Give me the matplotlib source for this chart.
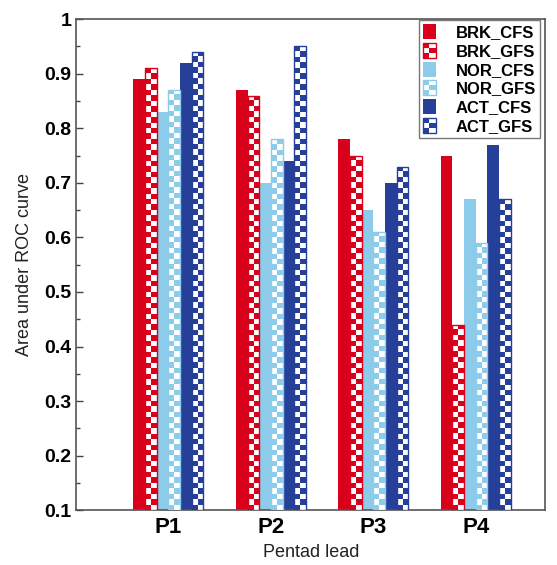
import numpy as np
import matplotlib
matplotlib.use("Agg")
import matplotlib.pyplot as plt
from matplotlib.patches import Rectangle
from matplotlib.legend_handler import HandlerBase
from matplotlib.ticker import MultipleLocator, FormatStrFormatter

plt.rcParams['font.family'] = ['Liberation Sans', 'DejaVu Sans']

# data
leads = ["P1", "P2", "P3", "P4"]
series = ["BRK_CFS", "BRK_GFS", "NOR_CFS", "NOR_GFS", "ACT_CFS", "ACT_GFS"]
brk_cfs = [0.89, 0.87, 0.78, 0.75]
brk_gfs = [0.91, 0.86, 0.75, 0.44]
nor_cfs = [0.83, 0.70, 0.65, 0.67]
nor_gfs = [0.87, 0.78, 0.61, 0.59]
act_cfs = [0.92, 0.74, 0.70, 0.77]
act_gfs = [0.94, 0.95, 0.73, 0.67]

RED = "#d9001b"
LIGHT = "#8ccbea"
DARK = "#26409a"
colors = [RED, RED, LIGHT, LIGHT, DARK, DARK]
checkered = [False, True, False, True, False, True]
values = [brk_cfs, brk_gfs, nor_cfs, nor_gfs, act_cfs, act_gfs]

YMIN, YMAX = 0.1, 1.0
x = np.arange(1, len(leads) + 1)
w = 0.114

fig = plt.figure(figsize=(5.57, 5.65), dpi=100)
ax = fig.add_axes([0.137, 0.097, 0.842, 0.869])


def checker_img(color, rows, cols):
    c = np.array(matplotlib.colors.to_rgb(color))
    img = np.ones((rows, cols, 3))
    for r in range(rows):
        for k in range(cols):
            if (r + k) % 2 == 0:
                img[r, k] = c
    return img


for i, (vals, col, chk) in enumerate(zip(values, colors, checkered)):
    pos = x + (i - 2.5) * w
    heights = [v - YMIN for v in vals]
    if not chk:
        ax.bar(pos, heights, width=w, bottom=YMIN, color=col, edgecolor='none', zorder=2)
    else:
        bars = ax.bar(pos, heights, width=w, bottom=YMIN, facecolor='none',
                      edgecolor=col, linewidth=1.0, zorder=4)
        for b in bars:
            x0 = b.get_x()
            im = ax.imshow(checker_img(col, 90, 2), extent=(x0, x0 + b.get_width(), YMIN, YMAX),
                           origin='lower', interpolation='nearest', aspect='auto', zorder=3)
            im.set_clip_path(b)

ax.set_xlim(0.1, 4.68)
ax.set_ylim(YMIN, YMAX)
ax.set_xticks(x)
ax.set_xticklabels(leads, fontsize=16, fontweight='bold')
ax.yaxis.set_major_locator(MultipleLocator(0.1))
ax.yaxis.set_minor_locator(MultipleLocator(0.05))
ax.yaxis.set_major_formatter(FormatStrFormatter('%g'))
for lab in ax.get_yticklabels():
    lab.set_fontweight('bold')
ax.tick_params(axis='y', which='major', direction='in', length=5, labelsize=14, width=1, colors='#444', labelcolor='black')
ax.tick_params(axis='y', which='minor', direction='in', length=3, width=1, colors='#444')
ax.tick_params(axis='x', direction='in', length=5, width=1, colors='#444', labelcolor='black', pad=5)
for s in ax.spines.values():
    s.set_color('#555')
    s.set_linewidth(1.2)

ax.set_ylabel("Area under ROC curve", fontsize=13, color='#222', labelpad=8)
ax.set_xlabel("Pentad lead", fontsize=13, color='#222', labelpad=4)


class HandlerChecker(HandlerBase):
    def __init__(self, color, chk):
        super().__init__()
        self.color = color
        self.chk = chk

    def create_artists(self, legend, orig_handle, xdescent, ydescent, width, height, fontsize, trans):
        x0, y0 = -xdescent, -ydescent
        if not self.chk:
            return [Rectangle((x0, y0), width, height, facecolor=self.color, edgecolor='none', transform=trans)]
        arts = [Rectangle((x0, y0), width, height, facecolor='white', edgecolor=self.color,
                          linewidth=1.0, transform=trans)]
        cw, ch = width / 2, height / 3
        for r in range(3):
            for k in range(2):
                if (r + k) % 2 == 0:
                    arts.append(Rectangle((x0 + k * cw, y0 + r * ch), cw, ch,
                                          facecolor=self.color, edgecolor='none', transform=trans))
        return arts


handles = [Rectangle((0, 0), 1, 1) for _ in series]
hmap = {h: HandlerChecker(c, k) for h, c, k in zip(handles, colors, checkered)}
leg = ax.legend(handles, series, handler_map=hmap, loc='upper right',
                bbox_to_anchor=(0.989, 0.998), borderaxespad=0, fancybox=False,
                handlelength=0.75, handleheight=1.0, handletextpad=1.2, labelspacing=0.15,
                prop={'weight': 'bold', 'size': 12}, borderpad=0.25)
leg.get_frame().set_edgecolor('#555')
leg.get_frame().set_linewidth(1.0)
leg.set_zorder(10)

fig.savefig("out.png", dpi=100)
